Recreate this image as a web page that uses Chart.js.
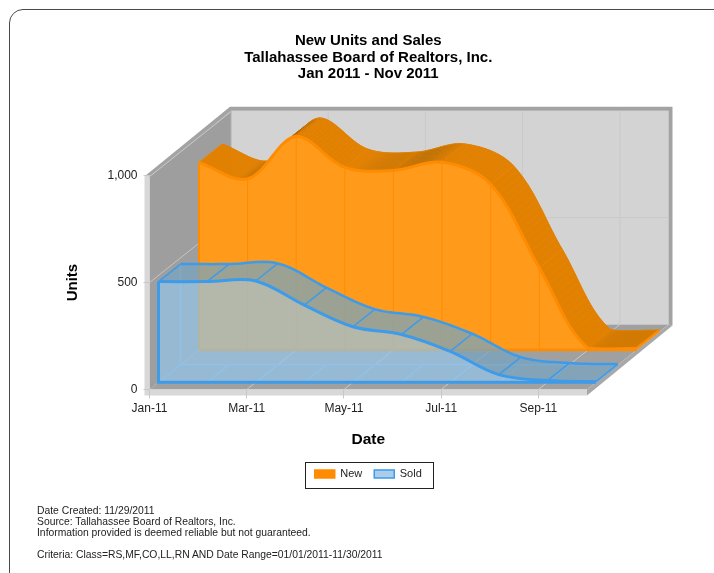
<!DOCTYPE html>
<html>
<head>
<meta charset="utf-8">
<title>New Units and Sales</title>
<script src="https://cdn.jsdelivr.net/npm/chart.js@4/dist/chart.umd.min.js"></script>
<style>
  html, body { margin: 0; padding: 0; background: #fff; overflow: hidden; }
  #wrap { position: relative; width: 714px; height: 573px; overflow: hidden; }
  #frame { position: absolute; left: 9px; top: 9px; width: 760px; height: 620px; border: 1.5px solid #4a4a4a; border-radius: 14px; }
  #myChart { position: absolute; left: 0; top: 0; }
  #notes { position: absolute; left: 37px; top: 505px; font: 10.35px/11px "Liberation Sans", Arial, sans-serif; color: #222; white-space: pre; }
</style>
</head>
<body>
<div id="wrap">
  <div id="frame"></div>
  <canvas id="myChart" width="714" height="573"></canvas>
  <div id="notes">Date Created: 11/29/2011
Source: Tallahassee Board of Realtors, Inc.
Information provided is deemed reliable but not guaranteed.

Criteria: Class=RS,MF,CO,LL,RN AND Date Range=01/01/2011-11/30/2011</div>
</div>
<script>
var months = ['Jan-11', 'Feb-11', 'Mar-11', 'Apr-11', 'May-11', 'Jun-11', 'Jul-11', 'Aug-11', 'Sep-11', 'Oct-11']
var newUnits = [878, 801, 1000, 854, 840, 878, 775, 385, 9, 7]
var soldUnits = [471, 471, 474, 361, 260, 224, 145, 36, 8, 3]
var yTicks = [0, 500, 1000]
var titleLines = ['New Units and Sales', 'Tallahassee Board of Realtors, Inc.', 'Jan 2011 - Nov 2011']

// how far the box goes back
var depthX = 81.5
var depthY = -65
var slopeY = depthY / depthX

// front and back of each series in the box, in px of x shift
var seriesDepth = {
  New: { from: 49.5, to: 72.5 },
  Sold: { from: 9, to: 31 }
}

var fontName = '"Liberation Sans", Arial, sans-serif'

function mix(a, b, t) {
  t = Math.max(0, Math.min(1, t))
  return 'rgb(' + a.map((v, i) => Math.round(v + (b[i] - v) * t)).join(',') + ')'
}

function poly(ctx, pts, fill) {
  ctx.beginPath()
  pts.forEach((p, i) => i ? ctx.lineTo(p[0], p[1]) : ctx.moveTo(p[0], p[1]))
  ctx.closePath()
  ctx.fillStyle = fill
  ctx.fill()
}

function seg(ctx, x1, y1, x2, y2, color, width) {
  ctx.beginPath()
  ctx.moveTo(x1, y1)
  ctx.lineTo(x2, y2)
  ctx.strokeStyle = color
  ctx.lineWidth = width
  ctx.stroke()
}

// walk the curve chart.js worked out for the dataset
function sampleCurve(points) {
  var out = []
  for (var i = 0; i < points.length - 1; i++) {
    var a = points[i], b = points[i + 1]
    for (var k = 0; k < 16; k++) {
      var t = k / 16, u = 1 - t
      out.push([
        u * u * u * a.x + 3 * u * u * t * a.cp2x + 3 * u * t * t * b.cp1x + t * t * t * b.x,
        u * u * u * a.y + 3 * u * u * t * a.cp2y + 3 * u * t * t * b.cp1y + t * t * t * b.y
      ])
    }
  }
  var last = points[points.length - 1]
  out.push([last.x, last.y])
  return out
}

function drawRoom(chart) {
  var ctx = chart.ctx
  var xs = chart.scales.x, ys = chart.scales.y
  var l = xs.left, r = xs.right, t = ys.top, b = ys.bottom
  var dx = depthX, dy = depthY

  // back wall, side wall, floor
  poly(ctx, [[l + dx, t + dy], [r + dx, t + dy], [r + dx, b + dy], [l + dx, b + dy]], '#d3d3d3')
  poly(ctx, [[l, t], [l + dx, t + dy], [l + dx, b + dy], [l, b]], '#9e9e9e')
  poly(ctx, [[l, b], [l + dx, b + dy], [r + dx, b + dy], [r, b]], '#a0a0a0')

  // thick edges round the walls
  poly(ctx, [[l - 3, t - 1], [l + dx - 1, t + dy - 4], [r + dx + 4, t + dy - 4], [r + dx + 4, b + dy + 1], [r + dx, b + dy], [r + dx, t + dy], [l + dx, t + dy], [l, t + 2]], '#a3a3a3')
  poly(ctx, [[r, b], [r + dx, b + dy], [r + dx + 4, b + dy + 1], [r, b + 6]], '#a8a8a8')
  seg(ctx, l, t + 1, l + dx, t + dy + 1, '#c9c9c9', 1)
  seg(ctx, l + dx, t + dy, l + dx, b + dy, '#b0b0b0', 1)

  // front slab
  poly(ctx, [[l - 5, t], [l, t], [l, b], [r, b], [r, b + 6], [l - 5, b + 6]], '#d8d8d8')

  // grid on the walls and floor
  ys.ticks.forEach((tick, i) => {
    var y = ys.getPixelForTick(i)
    if (tick.value > 0 && tick.value < 1000) {
      seg(ctx, l, y, l + dx, y + dy, '#c4c4c4', 1)
      seg(ctx, l + dx, y + dy, r + dx, y + dy, '#c9c9c9', 1)
    }
  })
  xs.ticks.forEach((tick, i) => {
    var x = xs.getPixelForTick(i)
    if (i > 0) {
      seg(ctx, x, b, x + dx, b + dy, '#c8c8c8', 1)
      seg(ctx, x + dx, b + dy, x + dx, t + dy, '#c9c9c9', 1)
    }
  })
}

function drawNew(chart, meta, depth) {
  var ctx = chart.ctx
  var base = chart.scales.y.getPixelForValue(0)
  var pts = sampleCurve(meta.data)
  var x1 = depth.from, y1 = depth.from * slopeY
  var x2 = depth.to, y2 = depth.to * slopeY
  var first = pts[0], last = pts[pts.length - 1]

  // top ribbon, shade goes with the slope
  for (var i = 0; i < pts.length - 1; i++) {
    var a = pts[i], b = pts[i + 1]
    var slope = (b[1] - a[1]) / (b[0] - a[0])
    var c = mix([176, 104, 0], [226, 128, 0], (slope + 0.55) / 0.75)
    var q = [[a[0] + x1, a[1] + y1], [b[0] + x1, b[1] + y1], [b[0] + x2, b[1] + y2], [a[0] + x2, a[1] + y2]]
    poly(ctx, q, c)
    ctx.strokeStyle = c
    ctx.lineWidth = 0.6
    ctx.stroke()
  }
  meta.data.forEach(p => {
    seg(ctx, p.x + x1, p.y + y1, p.x + x2, p.y + y2, 'rgba(255,140,0,0.35)', 1)
  })

  // back edge
  ctx.beginPath()
  pts.forEach((p, i) => i ? ctx.lineTo(p[0] + x2, p[1] + y2) : ctx.moveTo(p[0] + x2, p[1] + y2))
  ctx.strokeStyle = 'rgba(226,128,0,0.9)'
  ctx.lineWidth = 1
  ctx.stroke()

  // front face
  var face = pts.map(p => [p[0] + x1, p[1] + y1])
  face.push([last[0] + x1, base + y1], [first[0] + x1, base + y1])
  poly(ctx, face, '#ff9a1a')
  meta.data.forEach((p, i) => {
    if (i > 0) seg(ctx, p.x + x1, p.y + y1, p.x + x1, base + y1, '#ff8c00', 1)
  })
  seg(ctx, first[0] + x1, first[1] + y1, first[0] + x1, base + y1, '#ff8c00', 2)
  seg(ctx, first[0] + x1, base + y1, last[0] + x1, base + y1, '#ff8c00', 2.5)
  // end of the ribbon on the floor
  seg(ctx, last[0] + x1, last[1] + y1, last[0] + x2, last[1] + y2, '#ff8c00', 2.5)
}

function drawSold(chart, meta, depth) {
  var ctx = chart.ctx
  var base = chart.scales.y.getPixelForValue(0)
  var pts = sampleCurve(meta.data)
  var x1 = depth.from, y1 = depth.from * slopeY
  var x2 = depth.to, y2 = depth.to * slopeY
  var first = pts[0], last = pts[pts.length - 1]

  // floor of the box with its cross lines
  poly(ctx, [[first[0] + x1, base + y1], [last[0] + x1, base + y1], [last[0] + x2, base + y2], [first[0] + x2, base + y2]], 'rgba(130,185,240,0.05)')
  meta.data.forEach(p => {
    seg(ctx, p.x + x1, base + y1, p.x + x2, base + y2, '#82b8ea', 1.5)
  })
  seg(ctx, first[0] + x2, base + y2, last[0] + x2, base + y2, '#82b8ea', 1.5)
  seg(ctx, first[0] + x2, first[1] + y2, first[0] + x2, base + y2, '#82b8ea', 1.5)

  // top ribbon
  var ribbon = pts.map(p => [p[0] + x1, p[1] + y1])
  pts.slice().reverse().forEach(p => ribbon.push([p[0] + x2, p[1] + y2]))
  poly(ctx, ribbon, 'rgba(120,165,192,0.74)')
  meta.data.forEach(p => {
    seg(ctx, p.x + x1, p.y + y1, p.x + x2, p.y + y2, '#3d9be9', 1.5)
  })

  // back edge
  ctx.beginPath()
  pts.forEach((p, i) => i ? ctx.lineTo(p[0] + x2, p[1] + y2) : ctx.moveTo(p[0] + x2, p[1] + y2))
  ctx.strokeStyle = '#3d9be9'
  ctx.lineWidth = 2.5
  ctx.stroke()

  // front face
  var face = pts.map(p => [p[0] + x1, p[1] + y1])
  face.push([last[0] + x1, base + y1], [first[0] + x1, base + y1])
  poly(ctx, face, 'rgba(148,196,232,0.7)')
  seg(ctx, first[0] + x1, first[1] + y1, first[0] + x1, base + y1, '#3d9be9', 3)
  seg(ctx, first[0] + x1 - 1.5, base + y1, last[0] + x1, base + y1, '#3d9be9', 3)
}

var box3d = {
  id: 'box3d',
  beforeDraw(chart) {
    drawRoom(chart)
  },
  beforeDatasetDraw(chart, args) {
    var meta = args.meta
    var depth = seriesDepth[meta.label]
    meta.dataset.updateControlPoints(chart.chartArea, 'x')
    if (meta.label === 'New') drawNew(chart, meta, depth)
    else drawSold(chart, meta, depth)
    // chart.js strokes the front edge itself, pushed back into the box
    chart.ctx.save()
    chart.ctx.translate(depth.from, depth.from * slopeY)
  },
  afterDatasetDraw(chart) {
    chart.ctx.restore()
  },
  afterDraw(chart) {
    // box round the legend
    var ctx = chart.ctx
    var hits = chart.legend.legendHitBoxes
    var left = hits[0].left - 10
    var right = hits[hits.length - 1].left + hits[hits.length - 1].width + 11
    ctx.strokeStyle = '#222'
    ctx.lineWidth = 1
    ctx.strokeRect(Math.round(left) + 0.5, Math.round(chart.legend.top + 5.5) + 0.5, Math.round(right - left), 26)
  }
}

var chart = new Chart(document.getElementById('myChart').getContext('2d'), {
  type: 'line',
  data: {
    labels: months,
    datasets: [{
      label: 'New',
      data: newUnits,
      order: 2,
      backgroundColor: '#ff8c00',
      borderColor: '#ff8c00',
      borderWidth: 3
    }, {
      label: 'Sold',
      data: soldUnits,
      order: 1,
      backgroundColor: '#a9cdea',
      borderColor: '#3d9be9',
      borderWidth: 3
    }]
  },
  options: {
    responsive: false,
    animation: false,
    clip: false,
    layout: { padding: { left: 64, right: 127, top: 0, bottom: 83.5 } },
    elements: {
      point: { radius: 0 },
      line: { tension: 0.35, capBezierPoints: true, fill: false }
    },
    plugins: {
      tooltip: { enabled: false },
      title: {
        display: true,
        text: titleLines,
        fullSize: false,
        color: '#000',
        font: { family: fontName, size: 15, weight: 'bold', lineHeight: 1.1 },
        padding: { top: 33, bottom: 93.2 }
      },
      legend: {
        position: 'bottom',
        fullSize: false,
        labels: {
          boxWidth: 20,
          boxHeight: 8,
          padding: 12,
          color: '#222',
          font: { family: fontName, size: 11 },
          sort: (a, b) => a.datasetIndex - b.datasetIndex,
          generateLabels(c) {
            var items = Chart.defaults.plugins.legend.labels.generateLabels(c)
            items.forEach(it => { it.lineWidth = 1.5 })
            return items
          }
        }
      }
    },
    scales: {
      x: {
        grid: { display: true, drawOnChartArea: false, drawTicks: true, tickLength: 9, color: '#c8c8c8' },
        border: { display: false },
        ticks: { autoSkip: false, maxRotation: 0, padding: 3, color: '#222', font: { family: fontName, size: 12 } },
        afterBuildTicks(s) { s.ticks = s.ticks.filter((t, i) => i % 2 === 0) },
        afterFit(s) { s.height = 67 },
        title: { display: true, text: 'Date', color: '#000', font: { family: fontName, size: 15.5, weight: 'bold' }, padding: { top: 0, bottom: 7.5 } }
      },
      y: {
        min: 0,
        max: 1000,
        grid: { display: true, drawOnChartArea: false, drawTicks: true, tickLength: 6, color: '#c8c8c8' },
        border: { display: false },
        ticks: { stepSize: yTicks[1] - yTicks[0], padding: 6, color: '#222', font: { family: fontName, size: 12 } },
        afterFit(s) { s.width = 85.5 },
        title: { display: true, text: 'Units', color: '#000', font: { family: fontName, size: 15, weight: 'bold' }, padding: { top: 0, bottom: 0 } }
      }
    }
  },
  plugins: [box3d]
})
</script>
</body>
</html>
